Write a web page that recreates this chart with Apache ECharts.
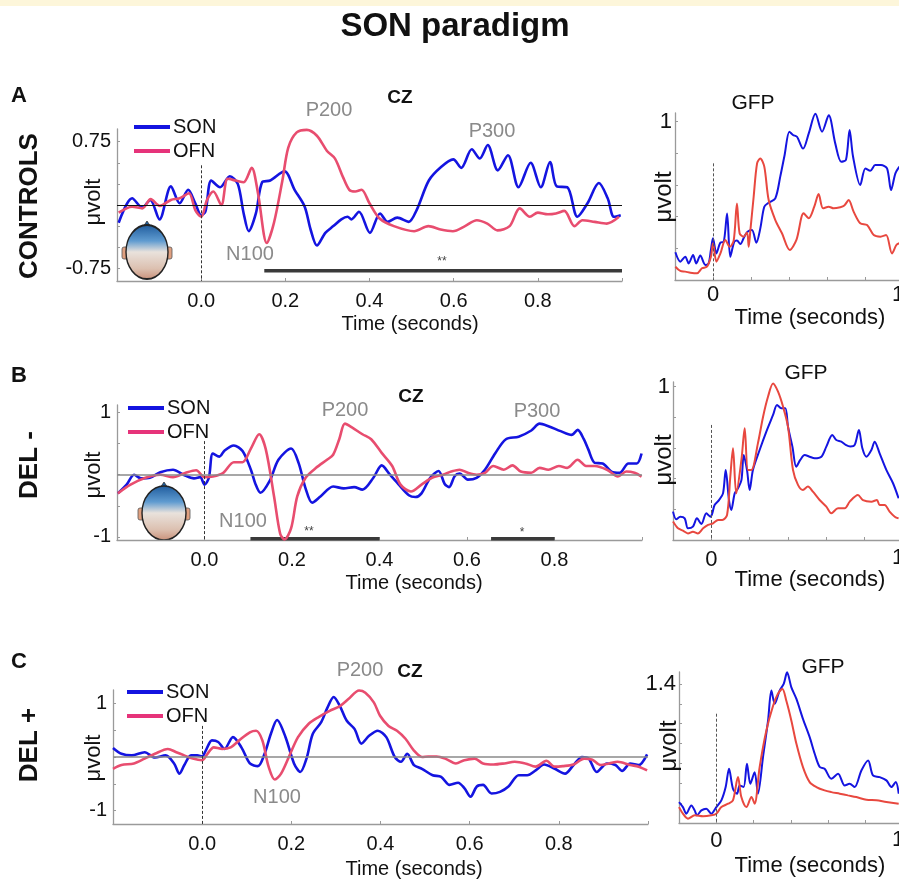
<!DOCTYPE html>
<html><head><meta charset="utf-8">
<script src="https://cdn.jsdelivr.net/npm/echarts@6/dist/echarts.min.js"></script>
<style>html,body{margin:0;padding:0;background:#fff}#c{width:899px;height:883px}</style>
</head><body><div id="c"></div>
<script>
// ---------- DATA: [time (s), value (µV)] ----------
const czControlsSON = [[-0.196,-0.21],[-0.164,0.08],[-0.14,-0.03],[-0.121,0.06],[-0.099,-0.17],[-0.072,0.22],[-0.051,0.02],[-0.031,0.18],[-0.014,0.02],[0,-0.12],[0.01,-0.08],[0.024,0.29],[0.045,0.21],[0.068,0.34],[0.087,0.25],[0.101,-0.1],[0.113,-0.31],[0.13,-0.1],[0.145,0.27],[0.164,0.29],[0.198,0.40],[0.222,0.18],[0.246,-0.02],[0.26,-0.29],[0.275,-0.48],[0.295,-0.33],[0.314,-0.25],[0.333,-0.17],[0.348,-0.14],[0.357,-0.17],[0.375,-0.08],[0.401,-0.33],[0.425,-0.1],[0.443,-0.2],[0.466,-0.15],[0.493,-0.2],[0.512,-0.06],[0.541,0.29],[0.57,0.45],[0.599,0.54],[0.618,0.44],[0.643,0.66],[0.662,0.55],[0.681,0.71],[0.705,0.41],[0.729,0.59],[0.754,0.21],[0.783,0.50],[0.807,0.21],[0.829,0.51],[0.845,0.22],[0.87,0.21],[0.894,-0.14],[0.918,0.02],[0.945,0.26],[0.966,0.08],[0.981,-0.14],[0.997,-0.12]];
const czControlsOFN = [[-0.196,-0.09],[-0.164,-0.02],[-0.14,-0.04],[-0.12,0.07],[-0.098,-0.01],[-0.072,0.06],[-0.051,0.08],[-0.029,0.14],[-0.014,-0.06],[0,-0.14],[0.014,0.06],[0.029,0.16],[0.048,0.0],[0.063,0.31],[0.082,0.29],[0.101,0.27],[0.12,0.44],[0.135,0.14],[0.156,-0.45],[0.173,-0.21],[0.193,0.29],[0.207,0.68],[0.227,0.86],[0.251,0.89],[0.275,0.82],[0.299,0.64],[0.318,0.55],[0.337,0.33],[0.352,0.18],[0.366,0.16],[0.381,0.18],[0.4,0.02],[0.424,-0.16],[0.458,-0.25],[0.506,-0.31],[0.54,-0.25],[0.569,-0.29],[0.598,-0.31],[0.627,-0.25],[0.655,-0.18],[0.68,-0.22],[0.704,-0.30],[0.733,-0.25],[0.757,-0.04],[0.781,-0.14],[0.8,-0.09],[0.824,-0.11],[0.843,-0.10],[0.863,-0.07],[0.887,-0.25],[0.906,-0.18],[0.935,-0.2],[0.964,-0.22],[0.993,-0.14]];
const gfpControlsSON = [[-0.198,0.175],[-0.172,0.116],[-0.146,0.147],[-0.128,0.105],[-0.105,0.158],[-0.088,0.105],[-0.067,0.154],[-0.04,0.095],[-0.023,0.105],[-0.011,0.19],[0,0.263],[0.018,0.168],[0.039,0.236],[0.056,0.24],[0.074,0.42],[0.091,0.147],[0.112,0.242],[0.126,0.25],[0.144,0.227],[0.165,0.274],[0.182,0.305],[0.205,0.316],[0.228,0.236],[0.249,0.326],[0.27,0.463],[0.293,0.488],[0.328,0.516],[0.354,0.653],[0.377,0.79],[0.402,0.937],[0.421,0.916],[0.442,0.905],[0.474,0.83],[0.504,0.926],[0.539,1.05],[0.574,0.937],[0.609,1.04],[0.644,0.86],[0.675,0.747],[0.7,0.76],[0.719,0.947],[0.737,0.78],[0.775,0.6],[0.802,0.705],[0.828,0.69],[0.854,0.726],[0.884,0.726],[0.916,0.705],[0.937,0.568],[0.96,0.674],[0.981,0.716]];
const gfpControlsOFN = [[-0.198,0.084],[-0.172,0.057],[-0.146,0.053],[-0.119,0.046],[-0.084,0.042],[-0.058,0.074],[-0.032,0.084],[-0.011,0.147],[0,0.232],[0.018,0.116],[0.039,0.168],[0.065,0.253],[0.088,0.21],[0.109,0.25],[0.126,0.484],[0.14,0.295],[0.161,0.274],[0.179,0.3],[0.188,0.21],[0.196,0.305],[0.214,0.526],[0.232,0.737],[0.249,0.768],[0.27,0.716],[0.293,0.505],[0.328,0.379],[0.363,0.295],[0.404,0.19],[0.439,0.253],[0.477,0.421],[0.504,0.39],[0.533,0.463],[0.556,0.543],[0.579,0.453],[0.609,0.463],[0.635,0.453],[0.67,0.46],[0.691,0.47],[0.714,0.505],[0.74,0.432],[0.775,0.358],[0.811,0.347],[0.846,0.284],[0.881,0.274],[0.911,0.284],[0.942,0.168],[0.965,0.221],[0.981,0.232]];

const czDelMinusSON = [[-0.198,-0.30],[-0.178,-0.16],[-0.161,0.0],[-0.145,-0.06],[-0.125,-0.05],[-0.101,0.04],[-0.072,0.08],[-0.048,0.0],[-0.024,-0.06],[-0.01,-0.04],[0,-0.16],[0.01,-0.05],[0.019,0.34],[0.034,0.29],[0.046,0.39],[0.067,0.47],[0.087,0.38],[0.106,0.08],[0.116,-0.14],[0.128,-0.29],[0.149,-0.1],[0.169,0.24],[0.198,0.42],[0.215,0.19],[0.231,-0.22],[0.246,-0.45],[0.265,-0.35],[0.294,-0.19],[0.318,-0.22],[0.342,-0.2],[0.361,-0.24],[0.386,-0.05],[0.405,0.15],[0.424,0.0],[0.443,-0.15],[0.467,-0.33],[0.482,-0.36],[0.496,-0.3],[0.516,-0.05],[0.535,0.06],[0.549,-0.15],[0.559,-0.2],[0.572,-0.02],[0.583,0.02],[0.602,-0.08],[0.622,-0.05],[0.641,0.08],[0.665,0.35],[0.689,0.57],[0.718,0.61],[0.747,0.71],[0.766,0.82],[0.786,0.78],[0.814,0.70],[0.839,0.64],[0.853,0.72],[0.867,0.57],[0.877,0.41],[0.892,0.19],[0.91,0.18],[0.93,0.05],[0.949,0.03],[0.969,0.18],[0.988,0.18],[0.999,0.34]];
const czDelMinusOFN = [[-0.198,-0.30],[-0.169,-0.16],[-0.135,-0.05],[-0.101,0],[-0.072,-0.04],[-0.043,0.03],[-0.019,0.07],[0,-0.04],[0.019,-0.03],[0.043,0.03],[0.067,0.2],[0.087,0.2],[0.106,0.42],[0.125,0.65],[0.14,0.41],[0.159,-0.35],[0.173,-0.95],[0.183,-1.04],[0.198,-0.86],[0.212,-0.35],[0.231,-0.05],[0.255,0.11],[0.28,0.24],[0.294,0.32],[0.308,0.57],[0.321,0.82],[0.337,0.76],[0.361,0.65],[0.381,0.57],[0.405,0.35],[0.429,0.14],[0.448,-0.16],[0.472,-0.27],[0.496,-0.16],[0.52,-0.05],[0.545,0],[0.564,0.05],[0.583,0.08],[0.602,0.03],[0.622,0],[0.641,0.03],[0.66,0.14],[0.684,0.08],[0.704,0.15],[0.723,0.05],[0.747,0.03],[0.766,0.11],[0.786,0.08],[0.81,0.14],[0.829,0.11],[0.853,0.24],[0.872,0.14],[0.892,0.14],[0.92,0.08],[0.945,-0.03],[0.964,0.05],[0.983,0.03],[0.999,-0.03]];
const gfpDelMinusSON = [[-0.2,0.185],[-0.183,0.135],[-0.162,0.152],[-0.139,0.141],[-0.122,0.076],[-0.096,0.087],[-0.075,0.141],[-0.052,0.104],[-0.026,0.174],[-0.005,0.152],[0.005,0.174],[0.017,0.228],[0.04,0.26],[0.061,0.304],[0.075,0.457],[0.092,0.261],[0.104,0.196],[0.122,0.304],[0.139,0.337],[0.157,0.39],[0.169,0.554],[0.186,0.457],[0.2,0.326],[0.217,0.457],[0.252,0.587],[0.287,0.707],[0.322,0.815],[0.343,0.88],[0.365,0.859],[0.386,0.859],[0.4,0.739],[0.423,0.609],[0.443,0.478],[0.464,0.522],[0.487,0.554],[0.513,0.543],[0.539,0.533],[0.574,0.543],[0.6,0.609],[0.631,0.685],[0.652,0.652],[0.678,0.641],[0.701,0.62],[0.725,0.609],[0.748,0.62],[0.77,0.717],[0.788,0.598],[0.809,0.543],[0.835,0.587],[0.852,0.641],[0.878,0.565],[0.913,0.457],[0.948,0.37],[0.977,0.272]];
const gfpDelMinusOFN = [[-0.2,0.12],[-0.174,0.076],[-0.148,0.061],[-0.122,0.043],[-0.096,0.054],[-0.07,0.043],[-0.043,0.076],[-0.017,0.098],[0.009,0.109],[0.035,0.13],[0.057,0.13],[0.082,0.163],[0.099,0.413],[0.113,0.598],[0.13,0.304],[0.157,0.522],[0.174,0.728],[0.191,0.457],[0.209,0.457],[0.243,0.63],[0.27,0.804],[0.296,0.935],[0.322,1.02],[0.348,0.967],[0.374,0.87],[0.4,0.739],[0.426,0.457],[0.452,0.359],[0.478,0.326],[0.504,0.348],[0.53,0.315],[0.565,0.261],[0.6,0.217],[0.626,0.174],[0.661,0.207],[0.696,0.207],[0.722,0.25],[0.765,0.293],[0.791,0.26],[0.835,0.25],[0.864,0.261],[0.878,0.228],[0.904,0.228],[0.93,0.185],[0.957,0.152],[0.977,0.141]];

const czDelPlusSON = [[-0.2,0.17],[-0.181,0.06],[-0.158,0.03],[-0.129,0.09],[-0.106,-0.01],[-0.082,0.03],[-0.063,-0.12],[-0.051,-0.31],[-0.04,-0.15],[-0.025,0.03],[-0.011,0.03],[0,0.01],[0.008,0.12],[0.022,0.31],[0.036,0.28],[0.05,0.15],[0.069,0.37],[0.088,0.18],[0.107,-0.12],[0.125,-0.17],[0.14,0.06],[0.154,0.43],[0.168,0.69],[0.187,0.37],[0.206,-0.12],[0.22,-0.28],[0.234,-0.03],[0.248,0.43],[0.267,0.65],[0.281,0.92],[0.295,1.12],[0.309,0.95],[0.324,0.68],[0.342,0.52],[0.357,0.25],[0.375,0.4],[0.394,0.49],[0.413,0.37],[0.432,0.0],[0.446,-0.09],[0.46,0.06],[0.475,-0.15],[0.493,-0.22],[0.517,-0.34],[0.536,-0.37],[0.555,-0.52],[0.574,-0.48],[0.588,-0.58],[0.602,-0.74],[0.616,-0.55],[0.63,-0.52],[0.649,-0.68],[0.668,-0.65],[0.687,-0.55],[0.71,-0.34],[0.729,-0.34],[0.748,-0.25],[0.767,-0.14],[0.791,-0.22],[0.814,-0.31],[0.833,-0.15],[0.852,0],[0.867,-0.03],[0.885,-0.28],[0.908,-0.12],[0.927,-0.15],[0.942,-0.26],[0.96,-0.12],[0.979,-0.15],[0.998,0.05]];
const czDelPlusOFN = [[-0.2,-0.22],[-0.181,-0.15],[-0.153,-0.12],[-0.129,-0.03],[-0.106,0.06],[-0.077,0.15],[-0.058,0.09],[-0.04,0.03],[-0.021,-0.03],[0,-0.06],[0.012,0.06],[0.026,0.18],[0.045,0.15],[0.064,0.18],[0.083,0.31],[0.107,0.46],[0.121,0.49],[0.135,0.31],[0.149,-0.18],[0.163,-0.42],[0.177,-0.31],[0.196,0.03],[0.215,0.37],[0.239,0.62],[0.262,0.75],[0.286,0.86],[0.309,0.95],[0.328,1.08],[0.352,1.24],[0.366,1.2],[0.385,1.02],[0.399,0.77],[0.418,0.58],[0.437,0.49],[0.456,0.34],[0.475,0.12],[0.493,0],[0.507,0.01],[0.526,0.01],[0.545,-0.03],[0.569,-0.12],[0.588,-0.06],[0.611,-0.03],[0.63,-0.12],[0.654,-0.14],[0.678,-0.12],[0.701,-0.09],[0.725,-0.12],[0.748,-0.18],[0.772,-0.07],[0.79,-0.18],[0.809,-0.17],[0.833,-0.14],[0.857,-0.03],[0.875,-0.05],[0.894,-0.15],[0.913,-0.12],[0.932,-0.09],[0.96,-0.15],[0.979,-0.18],[0.998,-0.25]];
const gfpDelPlusSON = [[-0.2,0.21],[-0.179,0.16],[-0.161,0.094],[-0.134,0.177],[-0.116,0.127],[-0.104,0.077],[-0.08,0.127],[-0.054,0.144],[-0.027,0.094],[0,0.16],[0.027,0.228],[0.05,0.362],[0.068,0.546],[0.089,0.345],[0.111,0.295],[0.125,0.378],[0.146,0.362],[0.164,0.596],[0.182,0.395],[0.205,0.512],[0.223,0.295],[0.25,0.663],[0.277,1.03],[0.295,1.333],[0.313,1.2],[0.339,1.333],[0.361,1.4],[0.379,1.517],[0.402,1.366],[0.429,1.249],[0.464,1.048],[0.5,0.864],[0.527,0.697],[0.554,0.563],[0.58,0.546],[0.616,0.445],[0.652,0.496],[0.688,0.378],[0.714,0.395],[0.741,0.362],[0.777,0.529],[0.813,0.63],[0.839,0.479],[0.875,0.462],[0.911,0.429],[0.938,0.362],[0.961,0.412],[0.977,0.295]];
const gfpDelPlusOFN = [[-0.2,0.16],[-0.179,0.094],[-0.152,0.044],[-0.116,0.077],[-0.071,0.067],[-0.027,0.077],[0,0.094],[0.027,0.16],[0.063,0.194],[0.089,0.228],[0.116,0.462],[0.134,0.261],[0.161,0.16],[0.188,0.261],[0.205,0.194],[0.232,0.563],[0.268,0.931],[0.304,1.18],[0.33,1.3],[0.354,1.35],[0.375,1.23],[0.402,1.03],[0.429,0.797],[0.464,0.563],[0.5,0.412],[0.536,0.362],[0.58,0.328],[0.616,0.311],[0.661,0.295],[0.705,0.278],[0.75,0.261],[0.804,0.234],[0.857,0.228],[0.911,0.211],[0.977,0.194]];

// significance bars [start, end, level]
const sigControls = [[0.15, 1.0, -0.78]];
const sigDelMinus = [[0.105, 0.40, -1.03], [0.655, 0.80, -1.03]];

// tick labels
const mainYTicksA = [-0.75, 0.75];
const mainYTicksBC = [-1, 1];
const gfpYTickA = [1], gfpYTickB = [1], gfpYTickC = [1.4];

// ---------- CHART ----------
const FONT = "'Liberation Sans', Arial, sans-serif";
const BLUE = '#1414e0', PINK = '#e84d6f', RED = '#e8483f';
const chart = echarts.init(document.getElementById('c'), null, {renderer: 'canvas'});

const grids = [
  {left:117, top:129, width:505, height:152},
  {left:675, top:113, width:228, height:167},
  {left:117, top:405, width:525, height:135},
  {left:673, top:382, width:230, height:158},
  {left:113, top:690, width:535, height:134},
  {left:679, top:672, width:224, height:151}
].map(g=>Object.assign(g,{containLabel:false, outerBoundsMode:'none'}));
const yRanges = [[-0.9,0.9],[0,1.055],[-1.05,1.12],[0,1.03],[-1.25,1.25],[0,1.52]];
const yLabelVals = [mainYTicksA, gfpYTickA, mainYTicksBC, gfpYTickB, mainYTicksBC, gfpYTickC];
const yTickVals = [[-0.75,-0.5,-0.25,0,0.25,0.5,0.75],[0.2,0.4,0.6,0.8,1],[-1,-0.5,0,0.5,1],[0.2,0.4,0.6,0.8,1],[-1,-0.5,0,0.5,1],[0.2,0.4,0.6,0.8,1,1.2,1.4]];
const near = (a,b)=>Math.abs(a-b)<1e-6;

const xAxes = grids.map((g,i)=>{
  const gfp = i%2===1;
  return {
    type:'value', gridIndex:i, min:-0.2, max:1.0, interval:0.2,
    axisLine:{show:true, onZero:false, lineStyle:{color:'#9a9a9a', width:1.3}},
    axisTick:{show:true, inside:true, length:3, lineStyle:{color:'#9a9a9a'}},
    splitLine:{show:false},
    axisLabel:{
      fontFamily:FONT, fontSize: gfp?22:20, color:'#111',
      margin: gfp ? (i===1?4:(i===3?9:7)) : 10,
      showMinLabel:true, showMaxLabel:true, hideOverlap:false,
      formatter: gfp
        ? (v)=> near(v,0)?'0':''
        : (v)=> (near(v,-0.2)||near(v,1))?'':v.toFixed(1)
    }
  };
});
const yAxes = grids.map((g,i)=>{
  const gfp = i%2===1;
  return {
    type:'value', gridIndex:i, min:yRanges[i][0], max:yRanges[i][1],
    axisLine:{show:true, onZero:false, lineStyle:{color:'#9a9a9a', width:1.3}},
    axisTick:{show:true, inside:true, length:3, customValues:yTickVals[i], lineStyle:{color:'#9a9a9a'}},
    splitLine:{show:false},
    axisLabel:{fontFamily:FONT, fontSize: gfp?22:20, color:'#111', margin: gfp?3:6,
      customValues:yLabelVals[i], formatter:(v)=>String(v)}
  };
});

function line(name, data, idx, color, width, markLine){
  const s = {type:'line', name, data, xAxisIndex:idx, yAxisIndex:idx,
    showSymbol:false, smooth:0.3, clip:true, z:3,
    lineStyle:{color, width}, itemStyle:{color}, emphasis:{disabled:true}};
  if (markLine) s.markLine = markLine;
  return s;
}
function refLines(idx, zeroColor, zeroWidth, dashTop, dashBottom, dashColor){
  const data = [[{coord:[0,dashTop]},{coord:[0,dashBottom]}]];
  if (zeroColor) data.unshift([{coord:[-0.2,0]},{coord:[1.0,0]}]);
  return {silent:true, symbol:'none', animation:false, label:{show:false},
    lineStyle:{color: zeroColor||dashColor, width: zeroWidth||1, type:'solid'},
    data: data.map((d,k)=>{
      if (zeroColor && k===0) return d;
      return [Object.assign({}, d[0], {lineStyle:{color:dashColor, width:1, type:[3,2]}}), d[1]];
    })
  };
}
function sigSeries(bars, idx){
  return bars.map(b=>({type:'line', name:'sig', xAxisIndex:idx, yAxisIndex:idx,
    data:[[b[0],b[2]],[b[1],b[2]]], showSymbol:false, silent:true, z:2,
    lineStyle:{color:'#3a3a3a', width:3.5}}));
}

const series = [
  line('SON', czControlsSON, 0, BLUE, 2.6, refLines(0,'#111',1,0.47,-0.9,'#333')),
  line('OFN', czControlsOFN, 0, PINK, 2.6),
  line('SON', gfpControlsSON, 1, BLUE, 2, refLines(1,null,0,0.737,0,'#555')),
  line('OFN', gfpControlsOFN, 1, RED, 2),
  line('SON', czDelMinusSON, 2, BLUE, 2.6, refLines(2,'#8a8a8a',1.5,0.54,-1.05,'#333')),
  line('OFN', czDelMinusOFN, 2, PINK, 2.6),
  line('SON', gfpDelMinusSON, 3, BLUE, 2, refLines(3,null,0,0.75,0,'#555')),
  line('OFN', gfpDelMinusOFN, 3, RED, 2),
  line('SON', czDelPlusSON, 4, BLUE, 2.6, refLines(4,'#8a8a8a',1.5,0.58,-1.25,'#333')),
  line('OFN', czDelPlusOFN, 4, PINK, 2.6),
  line('SON', gfpDelPlusSON, 5, BLUE, 2, refLines(5,null,0,1.1,0,'#555')),
  line('OFN', gfpDelPlusOFN, 5, RED, 2),
  ...sigSeries(sigControls, 0),
  ...sigSeries(sigDelMinus, 2)
];

const legendBase = {orient:'vertical', icon:'rect', itemWidth:36, itemHeight:4, itemGap:4, selectedMode:false,
  textStyle:{fontFamily:FONT, fontSize:20, color:'#111', padding:[0,0,0,-2]},
  data:[{name:'SON', itemStyle:{color:BLUE}},{name:'OFN', itemStyle:{color:'#e6337a'}}]};
const legends = [
  Object.assign({}, legendBase, {left:129, top:112}),
  Object.assign({}, legendBase, {left:123, top:393}),
  Object.assign({}, legendBase, {left:122, top:677})
];

function txt(x,y,text,size,opts){
  opts = opts||{};
  return {type:'text', x, y, rotation: opts.rot||0, silent:true, z:10,
    style:{text, fontFamily:FONT, fontSize:size, fontWeight:opts.bold?'bold':'normal',
      fill:opts.color||'#111', align:'center', verticalAlign:'middle'}};
}
function head(cx, cy, rx, ry){
  return {type:'group', x:cx, y:cy, silent:true, z:5, children:[
    {type:'rect', shape:{x:-rx-4, y:-5, width:6, height:12, r:2}, style:{fill:'#e0a080', stroke:'#555', lineWidth:0.8}},
    {type:'rect', shape:{x:rx-2, y:-5, width:6, height:12, r:2}, style:{fill:'#e0a080', stroke:'#555', lineWidth:0.8}},
    {type:'polygon', shape:{points:[[-4,-ry+2],[0,-ry-4],[4,-ry+2]]}, style:{fill:'#1f5fa0', stroke:'#333', lineWidth:0.8}},
    {type:'circle', shape:{cx:0, cy:0, r:rx}, scaleY: ry/rx,
      style:{stroke:'#222', lineWidth:1.4,
        fill:new echarts.graphic.LinearGradient(0,0,0,1,[
          {offset:0,color:'#1d5a9c'},{offset:0.3,color:'#5f9bd0'},{offset:0.5,color:'#e9e2dc'},
          {offset:0.8,color:'#dcc0b0'},{offset:1,color:'#c98f78'}])}}
  ]};
}

const graphic = [
  {type:'rect', shape:{x:0,y:0,width:899,height:6}, style:{fill:'#fdf6da'}, silent:true},
  txt(455,27,'SON paradigm',33,{bold:true}),
  txt(19,96,'A',22,{bold:true}), txt(19,376,'B',22,{bold:true}), txt(19,662,'C',22,{bold:true}),
  txt(30,206,'CONTROLS',26,{bold:true, rot:Math.PI/2}),
  txt(30,465,'DEL -',26,{bold:true, rot:Math.PI/2}),
  txt(30,745,'DEL +',26,{bold:true, rot:Math.PI/2}),
  txt(400,98,'CZ',19,{bold:true}), txt(411,397,'CZ',19,{bold:true}), txt(410,672,'CZ',19,{bold:true}),
  txt(329,110,'P200',20,{color:'#8a8a8a'}), txt(492,131,'P300',20,{color:'#8a8a8a'}), txt(250,254,'N100',20,{color:'#8a8a8a'}),
  txt(345,410,'P200',20,{color:'#8a8a8a'}), txt(537,411,'P300',20,{color:'#8a8a8a'}), txt(243,521,'N100',20,{color:'#8a8a8a'}),
  txt(360,670,'P200',20,{color:'#8a8a8a'}), txt(277,797,'N100',20,{color:'#8a8a8a'}),
  txt(442,262,'**',12,{color:'#444'}), txt(309,532,'**',12,{color:'#444'}), txt(522,533,'*',12,{color:'#444'}),
  txt(94,202,'μvolt',22,{rot:Math.PI/2}), txt(94,475,'μvolt',22,{rot:Math.PI/2}), txt(94,758,'μvolt',22,{rot:Math.PI/2}),
  txt(664,197,'μvolt',24,{rot:Math.PI/2}), txt(664,460,'μvolt',24,{rot:Math.PI/2}), txt(669,746,'μvolt',24,{rot:Math.PI/2}),
  txt(753,103,'GFP',21), txt(806,373,'GFP',21), txt(823,667,'GFP',21),
  txt(410,324,'Time (seconds)',20), txt(414,583,'Time (seconds)',20), txt(414,869,'Time (seconds)',20),
  txt(810,318,'Time (seconds)',22), txt(810,580,'Time (seconds)',22), txt(810,866,'Time (seconds)',22),
  // right-edge "1" tick labels of the GFP time axes (cut by the figure border)
  txt(898,295,'1',22), txt(898,558,'1',22), txt(898,840,'1',22),
  head(147,252,21,27), head(164,513,22,27)
];

chart.setOption({
  animation:false, backgroundColor:'#ffffff',
  grid: grids, xAxis: xAxes, yAxis: yAxes, series, legend: legends, graphic
});
</script>
</body></html>
